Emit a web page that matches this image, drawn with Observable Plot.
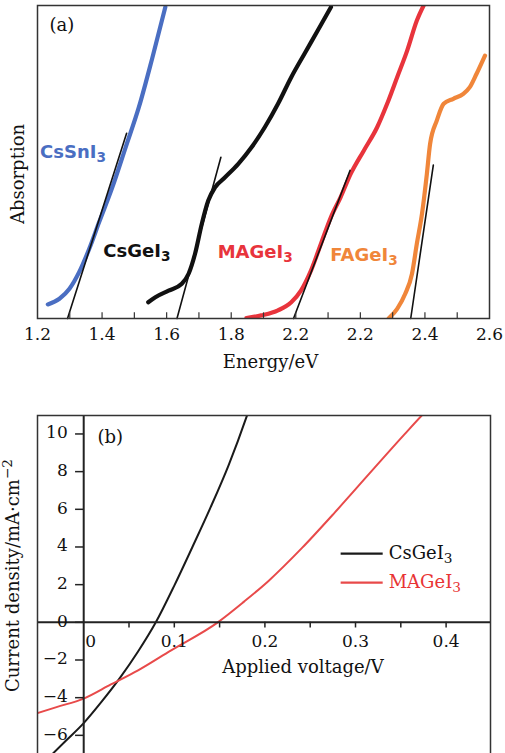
<!DOCTYPE html>
<html><head><meta charset="utf-8">
<script src="https://cdn.jsdelivr.net/npm/d3@7"></script>
<script src="https://cdn.jsdelivr.net/npm/@observablehq/plot@0.6"></script>
<style>
html,body{margin:0;padding:0;background:#fff;overflow:hidden}
svg{display:block}
</style>
</head><body><div id="a"></div><div id="b"></div>
<script>
// ---------- Panel (a): absorption spectra ----------
const seriesNamesA = ["CsSnI_3", "CsGeI_3", "MAGeI_3", "FAGeI_3"];
const seriesColorsA = ["#4a6ec2", "#111111", "#e8343c", "#f0863a"];

const csSnI3_E = [1.232, 1.268, 1.299, 1.329, 1.360, 1.391, 1.432, 1.473, 1.514, 1.555, 1.596];
const csSnI3_A = [0.045, 0.063, 0.095, 0.148, 0.222, 0.308, 0.420, 0.547, 0.675, 0.830, 0.995];

const csGeI3_E = [1.543, 1.565, 1.606, 1.647, 1.668, 1.688, 1.709, 1.729, 1.750, 1.781, 1.822, 1.863, 1.904, 1.945, 1.986, 2.027, 2.068, 2.109];
const csGeI3_A = [0.052, 0.068, 0.089, 0.111, 0.143, 0.207, 0.303, 0.377, 0.419, 0.451, 0.494, 0.547, 0.611, 0.686, 0.771, 0.846, 0.920, 0.995];

const maGeI3_E = [1.847, 1.893, 1.945, 1.986, 2.016, 2.047, 2.078, 2.109, 2.139, 2.170, 2.211, 2.252, 2.283, 2.314, 2.345, 2.375, 2.396];
const maGeI3_A = [0.001, 0.010, 0.026, 0.052, 0.089, 0.153, 0.239, 0.324, 0.388, 0.462, 0.537, 0.611, 0.686, 0.771, 0.856, 0.952, 1.000];

const faGeI3_E = [2.288, 2.314, 2.339, 2.360, 2.375, 2.391, 2.406, 2.416, 2.437, 2.458, 2.488, 2.519, 2.539, 2.560, 2.586];
const faGeI3_A = [0.001, 0.031, 0.079, 0.143, 0.239, 0.335, 0.462, 0.558, 0.633, 0.686, 0.702, 0.718, 0.739, 0.782, 0.840];

// band-gap tangent lines (start, end)
const tangentE = [[1.293, 1.476], [1.632, 1.768], [1.993, 2.168], [2.356, 2.426]];
const tangentA = [[0.000, 0.592], [0.000, 0.515], [0.000, 0.473], [0.000, 0.490]];

const xTicksA = [1.2, 1.4, 1.6, 1.8, 2.0, 2.2, 2.4, 2.6];
const xTickLabelsA = ["1.2", "1.4", "1.6", "1.8", "2.2", "2.2", "2.4", "2.6"];
const xMinorTicksA = [1.3, 1.4, 1.5, 1.6, 1.7, 1.8, 1.9, 2.0, 2.1, 2.2, 2.3, 2.4, 2.5];

// in-plot label anchors (data coordinates)
const labelE_A = [1.208, 1.404, 1.758, 2.107];
const labelAbs_A = [0.531, 0.215, 0.212, 0.201];

// ---------- Panel (b): J-V curves ----------
const seriesNamesB = ["CsGeI_3", "MAGeI_3"];
const seriesColorsB = ["#1a1a1a", "#e84a4a"];

const csGeI3_V = [-0.040, -0.020, 0.000, 0.020, 0.040, 0.060, 0.0796, 0.100, 0.120, 0.140, 0.160, 0.180, 0.186];
const csGeI3_J = [-7.25, -6.30, -5.35, -4.20, -2.95, -1.55, 0.00, 1.95, 4.00, 6.10, 8.35, 10.95, 11.80];

const maGeI3_V = [-0.055, -0.030, 0.000, 0.030, 0.060, 0.096, 0.148, 0.177, 0.204, 0.241, 0.2775, 0.3145, 0.3535, 0.3776, 0.385];
const maGeI3_J = [-4.88, -4.50, -4.05, -3.30, -2.55, -1.50, 0.00, 1.10, 2.20, 3.95, 5.85, 7.85, 9.95, 11.20, 11.55];

const xTicksB = [0, 0.1, 0.2, 0.3, 0.4];
const xMinorTicksB = [0.05, 0.15, 0.25, 0.35];
const yTicksB = [-6, -4, -2, 0, 2, 4, 6, 8, 10];

// legend anchors (data coordinates)
const legendV = [0.2836, 0.330];
const legendJ = [3.65, 2.11];

// ---------- helpers ----------
const serif = "'DejaVu Serif', serif";
const sans = "'DejaVu Sans', sans-serif";
const zip = (name, xs, ys, kx, ky) => xs.map((v, i) => ({name, [kx]: v, [ky]: ys[i]}));
const fmtMinus = d => (d < 0 ? "\u2212" + (-d) : String(d));

function richText(svg) {
  const ns = "http://www.w3.org/2000/svg";
  svg.querySelectorAll("text").forEach(t => {
    const s = t.textContent;
    const m = s.match(/^(.*?)([_^])(.+)$/);
    if (!m || t.querySelector("tspan")) return;
    t.textContent = "";
    const a = document.createElementNS(ns, "tspan");
    a.textContent = m[1];
    t.appendChild(a);
    const b = document.createElementNS(ns, "tspan");
    b.textContent = m[3];
    b.setAttribute("font-size", "0.76em");
    b.setAttribute("dy", m[2] === "_" ? "0.3em" : "-0.55em");
    t.appendChild(b);
  });
}

// ---------- build panel (a) ----------
const absData = [
  ...zip(seriesNamesA[0], csSnI3_E, csSnI3_A, "E", "A"),
  ...zip(seriesNamesA[1], csGeI3_E, csGeI3_A, "E", "A"),
  ...zip(seriesNamesA[2], maGeI3_E, maGeI3_A, "E", "A"),
  ...zip(seriesNamesA[3], faGeI3_E, faGeI3_A, "E", "A")
];
const tangentData = tangentE.flatMap((es, k) => es.map((e, i) => ({k, E: e, A: tangentA[k][i]})));
const labelDataA = seriesNamesA.map((name, i) => ({name, E: labelE_A[i], A: labelAbs_A[i]}));

const plotA = Plot.plot({
  width: 505, height: 380,
  marginLeft: 37, marginRight: 16, marginTop: 5, marginBottom: 62,
  x: {domain: [1.2, 2.6], axis: null},
  y: {domain: [0, 1], axis: null},
  color: {domain: seriesNamesA, range: seriesColorsA},
  style: {fontFamily: serif, fontSize: "17px", background: "#fff", color: "#111"},
  marks: [
    Plot.line(absData, {x: "E", y: "A", z: "name", stroke: "name", strokeWidth: 4.2, curve: "monotone-x", clip: true, strokeLinecap: "round"}),
    Plot.line(tangentData, {x: "E", y: "A", z: "k", stroke: "#111", strokeWidth: 1.6}),
    Plot.ruleX(xMinorTicksA, {x: d => d, y1: 0, y2: 0.018, stroke: "#333", strokeWidth: 1.2}),
    Plot.text(xTicksA, {x: d => d, y: 0, dy: 16, text: d => xTickLabelsA[xTicksA.indexOf(d)], fontSize: 17, fill: "#111"}),
    Plot.frame({stroke: "#333", strokeWidth: 1.5}),
    Plot.text(labelDataA, {x: "E", y: "A", text: "name", fill: "name", textAnchor: "start", fontFamily: sans, fontWeight: "bold", fontSize: 18, letterSpacing: "1.3px"}),
    Plot.text(["(a)"], {frameAnchor: "top-left", dx: 12, dy: 20, fontSize: 18, textAnchor: "start", lineAnchor: "middle", fill: "#111"}),
    Plot.text(["Energy/eV"], {frameAnchor: "bottom", dx: 7, dy: 44, fontSize: 18, textAnchor: "middle", lineAnchor: "middle", fill: "#111"}),
    Plot.text(["Absorption"], {frameAnchor: "left", dx: -19, dy: 12, rotate: -90, fontSize: 18, textAnchor: "middle", lineAnchor: "middle", fill: "#111"})
  ]
});
richText(plotA);
document.getElementById("a").appendChild(plotA);

// ---------- build panel (b) ----------
const jvData = [
  ...zip(seriesNamesB[0], csGeI3_V, csGeI3_J, "V", "J"),
  ...zip(seriesNamesB[1], maGeI3_V, maGeI3_J, "V", "J")
];
const legendData = seriesNamesB.map((name, i) => ({name, x1: legendV[0], x2: legendV[1], y: legendJ[i]}));

const plotB = Plot.plot({
  width: 505, height: 373,
  marginLeft: 37, marginRight: 15, marginTop: 35, marginBottom: -2,
  x: {domain: [-0.051, 0.449], axis: null},
  y: {domain: [-7.07, 10.98], axis: null},
  color: {domain: seriesNamesB, range: seriesColorsB},
  style: {fontFamily: serif, fontSize: "17px", background: "#fff", color: "#111"},
  marks: [
    Plot.line(jvData, {x: "V", y: "J", z: "name", stroke: "name", strokeWidth: 2, curve: "monotone-x", clip: true}),
    Plot.ruleY([0], {stroke: "#222", strokeWidth: 2}),
    Plot.ruleX([0], {stroke: "#222", strokeWidth: 2}),
    Plot.ruleX([...xTicksB.slice(1), ...xMinorTicksB], {x: d => d, y1: 0, y2: -0.3, stroke: "#222", strokeWidth: 1.5}),
    Plot.ruleY(yTicksB, {y: d => d, x1: 0, x2: -0.009, stroke: "#222", strokeWidth: 1.5}),
    Plot.text(xTicksB.filter(d => d !== 0), {x: d => d, y: 0, dy: 19, text: d => d.toFixed(1), fill: "#111"}),
    Plot.text(xTicksB.filter(d => d === 0), {x: d => d, y: 0, dy: 19, dx: 7, text: d => String(d), fill: "#111"}),
    Plot.text(yTicksB, {x: 0, y: d => d, dx: -16, dy: -1, text: fmtMinus, textAnchor: "end", fill: "#111"}),
    Plot.frame({stroke: "#333", strokeWidth: 1.5}),
    Plot.link(legendData, {x1: "x1", x2: "x2", y1: "y", y2: "y", stroke: "name", strokeWidth: 2.2}),
    Plot.text(legendData, {x: "x2", y: "y", dx: 6, text: "name", fill: d => d.name === seriesNamesB[1] ? "#e83434" : "#111", textAnchor: "start", fontSize: 18}),
    Plot.text(["(b)"], {x: 0.0151, y: 9.81, textAnchor: "start", fontSize: 18, fill: "#111"}),
    Plot.text(["Applied voltage/V"], {x: 0.242, y: 0, dy: 45, fontSize: 18, fill: "#111"}),
    Plot.text(["Current density/mA\u00B7cm^\u22122"], {frameAnchor: "left", dx: -24, dy: -10, rotate: -90, fontSize: 18, textAnchor: "middle", lineAnchor: "middle", fill: "#111"})
  ]
});
richText(plotB);
document.getElementById("b").appendChild(plotB);
</script>
</body></html>
